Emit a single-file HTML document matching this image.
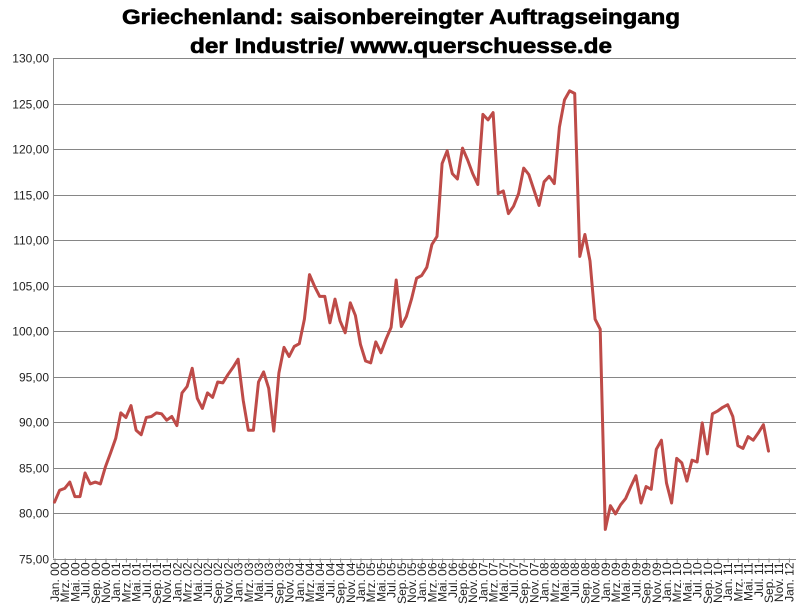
<!DOCTYPE html>
<html><head><meta charset="utf-8"><style>
body{margin:0;background:#fff;}
svg{display:block;font-family:"Liberation Sans",Arial,sans-serif;}
</style></head><body>
<svg id="chart" width="801" height="616" viewBox="0 0 801 616" xmlns="http://www.w3.org/2000/svg">
<text x="122" y="24" textLength="558" lengthAdjust="spacingAndGlyphs" font-size="21" font-weight="bold" fill="#000" stroke="#000" stroke-width="0.6">Griechenland: saisonbereingter  Auftragseingang</text>
<text x="190" y="53" textLength="422" lengthAdjust="spacingAndGlyphs" font-size="21" font-weight="bold" fill="#000" stroke="#000" stroke-width="0.6">der Industrie/  www.querschuesse.de</text>
<g id="grid"></g>
<g id="yaxis"></g>
<g id="xaxis"></g>
<g id="series"></g>
</svg>
<script>
const yTicks = [75,80,85,90,95,100,105,110,115,120,125,130];
const monthNames = ["Jan.","Mrz.","Mai.","Jul.","Sep.","Nov."];
const years = ["00","01","02","03","04","05","06","07","08","09","10","11","12"];
const values = [81.2,82.5,82.7,83.4,81.8,81.8,84.4,83.2,83.4,83.2,85.1,86.6,88.2,91.0,90.5,91.8,89.1,88.6,90.5,90.6,91.0,90.9,90.2,90.6,89.6,93.2,93.9,95.9,92.6,91.5,93.2,92.7,94.4,94.3,95.2,96.0,96.9,92.4,89.1,89.1,94.4,95.5,93.7,89.0,95.4,98.2,97.2,98.3,98.6,101.3,106.2,104.9,103.8,103.8,100.9,103.5,101.1,99.8,103.1,101.7,98.5,96.7,96.5,98.8,97.6,99.1,100.4,105.6,100.5,101.6,103.5,105.8,106.1,107.0,109.5,110.4,118.4,119.8,117.3,116.7,120.1,118.8,117.3,116.1,123.8,123.2,124.0,115.1,115.4,112.9,113.7,115.1,117.9,117.2,115.5,113.8,116.4,117.0,116.2,122.4,125.4,126.4,126.1,108.2,110.6,107.7,101.3,100.2,78.2,80.8,79.9,80.9,81.6,82.9,84.1,81.1,82.9,82.6,87.0,88.0,83.3,81.1,86.0,85.5,83.5,85.8,85.6,89.9,86.5,90.9,91.2,91.6,91.9,90.6,87.4,87.1,88.4,88.0,88.8,89.7,86.8];

const NS="http://www.w3.org/2000/svg";
const x0=54.5, dx=5.1, yMin=75, yMax=130, yTop=58, yBot=558.5, axisX=53;
function xs(i){return x0+i*dx;}
function ys(v){return yBot-(v-yMin)/(yMax-yMin)*(yBot-yTop);}
function mk(tag,attrs,parent){const e=document.createElementNS(NS,tag);for(const k in attrs)e.setAttribute(k,attrs[k]);parent.appendChild(e);return e;}

const grid=document.getElementById('grid'), yaxis=document.getElementById('yaxis'), xaxis=document.getElementById('xaxis'), series=document.getElementById('series');
yTicks.forEach(v=>{
  const y=Math.round(ys(v))+0.5;
  const l=mk('line',{x1:axisX,x2:796,y1:y,y2:y,stroke:'#868686','stroke-width':1},grid);
  
  
  const t=mk('text',{x:49,y:y+4,'text-anchor':'end','font-size':12,fill:'#222'},yaxis);
  t.textContent=v.toFixed(2).replace('.',',');
  
  
});
const ax=mk('line',{x1:axisX+0.5,x2:axisX+0.5,y1:yTop,y2:yBot,stroke:'#868686','stroke-width':1},yaxis);



const nLabels=(years.length-1)*6+1;
for(let k=0;k<nLabels;k++){
  const i=k*2;
  const x=xs(i);
  const label=monthNames[k%6]+" "+years[Math.floor(k/6)];
  const tk=mk('line',{x1:x+0.5,x2:x+0.5,y1:yBot,y2:yBot+4,stroke:'#868686','stroke-width':1},xaxis);
  
  
  const t=mk('text',{x:0,y:0,'text-anchor':'end','font-size':12,fill:'#222',transform:`translate(${x+4.5},${yBot+4}) rotate(-90)`},xaxis);
  t.textContent=label;
  
  
}

const pts=values.map((v,i)=>xs(i).toFixed(1)+","+ys(v).toFixed(1)).join(" ");
const pl=mk('polyline',{points:pts,fill:'none',stroke:'#be4b48','stroke-width':3,'stroke-linejoin':'round','stroke-linecap':'round'},series);


</script>
</body></html>
